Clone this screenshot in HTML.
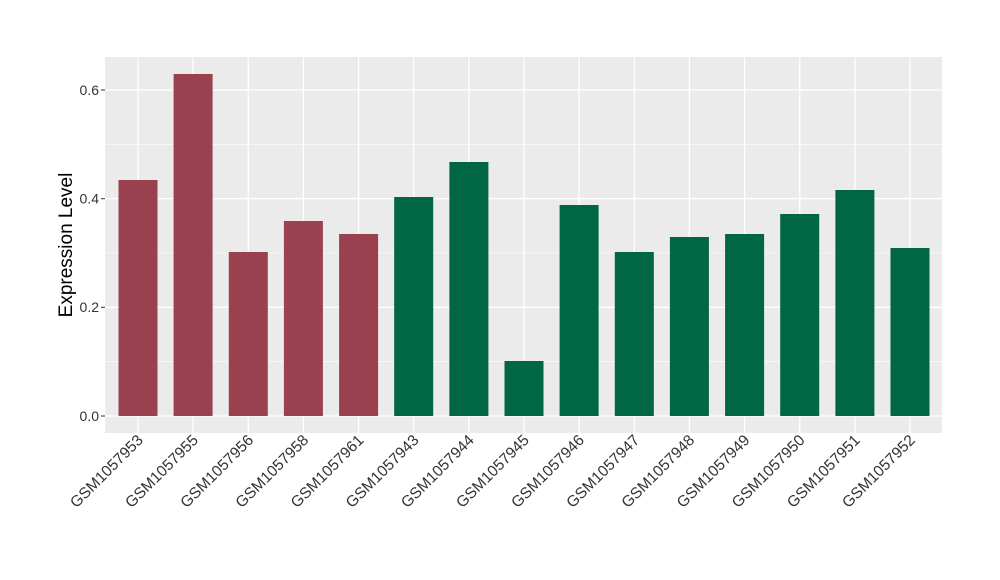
<!DOCTYPE html>
<html><head><meta charset="utf-8"><style>body{margin:0;background:#fff}svg{display:block}text{font-family:"Liberation Sans",sans-serif}</style></head><body>
<svg width="1000" height="580" xmlns="http://www.w3.org/2000/svg">
<rect x="105" y="57" width="837" height="376" fill="#EBEBEB"/>
<g stroke="#fff" stroke-width="0.6">
<line x1="105" x2="942" y1="361.7" y2="361.7"/><line x1="105" x2="942" y1="253" y2="253"/><line x1="105" x2="942" y1="144.3" y2="144.3"/>
</g>
<g stroke="#fff" stroke-width="1.3">
<line x1="105" x2="942" y1="416" y2="416"/><line x1="105" x2="942" y1="307.3" y2="307.3"/><line x1="105" x2="942" y1="198.7" y2="198.7"/><line x1="105" x2="942" y1="90" y2="90"/>
<line x1="138" x2="138" y1="57" y2="433"/><line x1="193.1" x2="193.1" y1="57" y2="433"/><line x1="248.3" x2="248.3" y1="57" y2="433"/><line x1="303.4" x2="303.4" y1="57" y2="433"/><line x1="358.6" x2="358.6" y1="57" y2="433"/><line x1="413.7" x2="413.7" y1="57" y2="433"/><line x1="468.9" x2="468.9" y1="57" y2="433"/><line x1="524" x2="524" y1="57" y2="433"/><line x1="579.1" x2="579.1" y1="57" y2="433"/><line x1="634.3" x2="634.3" y1="57" y2="433"/><line x1="689.4" x2="689.4" y1="57" y2="433"/><line x1="744.6" x2="744.6" y1="57" y2="433"/><line x1="799.7" x2="799.7" y1="57" y2="433"/><line x1="854.9" x2="854.9" y1="57" y2="433"/><line x1="910" x2="910" y1="57" y2="433"/>
</g>
<g fill="#99414F">
<rect x="118.5" y="180" width="39" height="236"/><rect x="173.6" y="74" width="39" height="342"/><rect x="228.8" y="252" width="39" height="164"/><rect x="283.9" y="221" width="39" height="195"/><rect x="339.1" y="234" width="39" height="182"/>
</g>
<g fill="#006644">
<rect x="394.2" y="197" width="39" height="219"/><rect x="449.4" y="162" width="39" height="254"/><rect x="504.5" y="361" width="39" height="55"/><rect x="559.6" y="205" width="39" height="211"/><rect x="614.8" y="252" width="39" height="164"/><rect x="669.9" y="237" width="39" height="179"/><rect x="725.1" y="234" width="39" height="182"/><rect x="780.2" y="214" width="39" height="202"/><rect x="835.4" y="190" width="39" height="226"/><rect x="890.5" y="248" width="39" height="168"/>
</g>
<g stroke="#333" stroke-width="1">
<line x1="101" x2="105" y1="416" y2="416"/><line x1="101" x2="105" y1="307.3" y2="307.3"/><line x1="101" x2="105" y1="198.7" y2="198.7"/><line x1="101" x2="105" y1="90" y2="90"/>
</g>
<g font-size="14" fill="#333" text-anchor="end">
<text x="99" y="421">0.0</text><text x="99" y="312">0.2</text><text x="99" y="203.5">0.4</text><text x="99" y="95">0.6</text>
</g>
<text transform="translate(72,245) rotate(-90)" font-size="19" text-anchor="middle" fill="#000">Expression Level</text>
<g font-size="15.5" fill="#333" text-anchor="end">
<text transform="translate(144,441) rotate(-45)">GSM1057953</text>
<text transform="translate(199.1,441) rotate(-45)">GSM1057955</text>
<text transform="translate(254.3,441) rotate(-45)">GSM1057956</text>
<text transform="translate(309.4,441) rotate(-45)">GSM1057958</text>
<text transform="translate(364.6,441) rotate(-45)">GSM1057961</text>
<text transform="translate(419.7,441) rotate(-45)">GSM1057943</text>
<text transform="translate(474.9,441) rotate(-45)">GSM1057944</text>
<text transform="translate(530,441) rotate(-45)">GSM1057945</text>
<text transform="translate(585.1,441) rotate(-45)">GSM1057946</text>
<text transform="translate(640.3,441) rotate(-45)">GSM1057947</text>
<text transform="translate(695.4,441) rotate(-45)">GSM1057948</text>
<text transform="translate(750.6,441) rotate(-45)">GSM1057949</text>
<text transform="translate(805.7,441) rotate(-45)">GSM1057950</text>
<text transform="translate(860.9,441) rotate(-45)">GSM1057951</text>
<text transform="translate(916,441) rotate(-45)">GSM1057952</text>
</g>
</svg>
</body></html>
